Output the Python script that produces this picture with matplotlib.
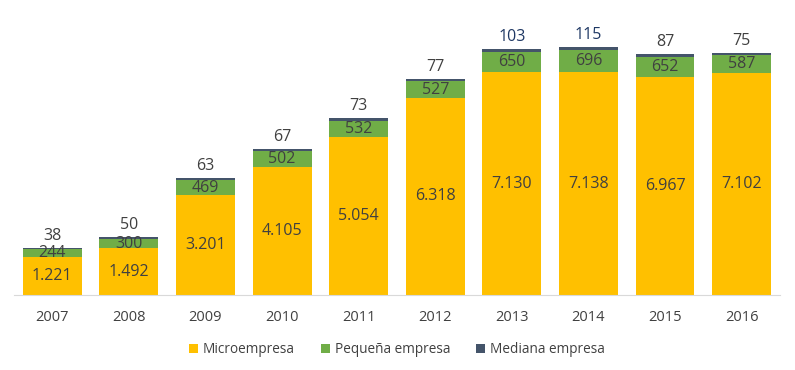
import matplotlib.pyplot as plt
import numpy as np

plt.rcParams['font.family'] = ['Open Sans', 'DejaVu Sans']

years = ['2007', '2008', '2009', '2010', '2011', '2012', '2013', '2014', '2015', '2016']
micro = [1221, 1492, 3201, 4105, 5054, 6318, 7130, 7138, 6967, 7102]
pequena = [244, 300, 469, 502, 532, 527, 650, 696, 652, 587]
mediana = [38, 50, 63, 67, 73, 77, 103, 115, 87, 75]

c_micro = '#FFC000'
c_peq = '#70AD47'
c_med = '#44546A'
txt = '#404040'

def fmt(v):
    return f'{v:,}'.replace(',', '.')

fig = plt.figure(figsize=(7.95, 3.70), dpi=100)
ax = fig.add_axes([0.0176, 0.203, 0.9634, 0.759])

x = np.arange(len(years))
w = 0.77
micro = np.array(micro)
pequena = np.array(pequena)
mediana = np.array(mediana)

ax.bar(x, micro, w, color=c_micro, label='Microempresa')
ax.bar(x, pequena, w, bottom=micro, color=c_peq, label='Pequeña empresa')
ax.bar(x, mediana, w, bottom=micro + pequena, color=c_med, label='Mediana empresa')

for i in range(len(years)):
    ax.text(x[i], micro[i] / 2, fmt(micro[i]), ha='center', va='center', fontsize=11.5, color=txt)
    ax.text(x[i], micro[i] + pequena[i] / 2, fmt(pequena[i]), ha='center', va='center', fontsize=11.5, color=txt)
    col = '#1F3864' if mediana[i] > 100 else txt
    ax.text(x[i], micro[i] + pequena[i] + mediana[i] + 130, fmt(mediana[i]), ha='center', va='bottom', fontsize=11.5, color=col)

ax.set_xlim(-0.5, len(years) - 0.5)
ax.set_ylim(0, 9000)
ax.set_xticks(x)
ax.set_xticklabels(years, fontsize=10.5, color=txt)
ax.tick_params(axis='x', length=0, pad=11)
ax.set_yticks([])
for s in ['top', 'right', 'left']:
    ax.spines[s].set_visible(False)
ax.spines['bottom'].set_color('#D9D9D9')

ax.legend(loc='upper center', bbox_to_anchor=(0.5, -0.125), ncol=3, frameon=False,
          fontsize=9.8, handlelength=0.65, handleheight=0.65, handletextpad=0.35,
          columnspacing=1.9, labelcolor=txt)

fig.savefig('out.png', dpi=100)
